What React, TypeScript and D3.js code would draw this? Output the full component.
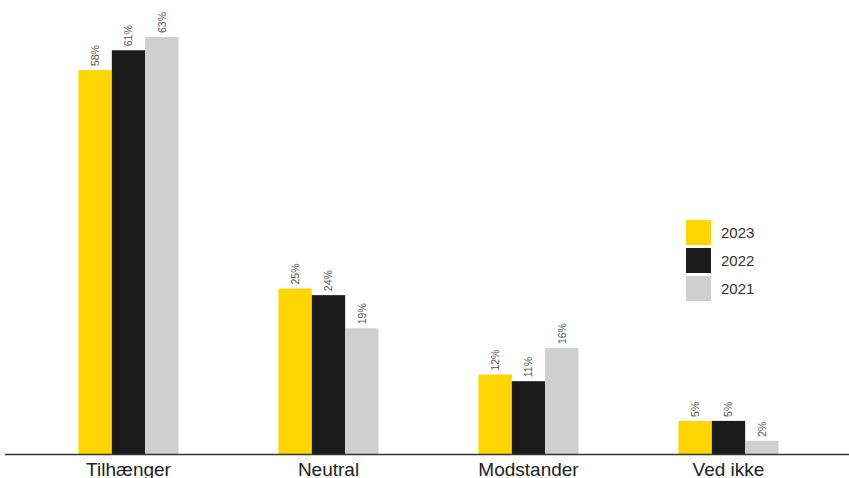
import React from "react";
import * as d3 from "d3";

const categories = ["Tilhænger", "Neutral", "Modstander", "Ved ikke"];
const years = ["2023", "2022", "2021"];
const values2023 = [58, 25, 12, 5];
const values2022 = [61, 24, 11, 5];
const values2021 = [63, 19, 16, 2];
const colors = ["#FFD500", "#1b1b1b", "#cfcfcf"];

const W = 849;
const H = 478;

export default function App() {
  const series = [values2023, values2022, values2021];
  const baseY = 454;
  const x = d3
    .scaleBand<string>()
    .domain(categories)
    .range([28.5, 828.5])
    .paddingInner(0.5)
    .paddingOuter(0.25);
  const xi = d3.scaleBand<string>().domain(years).range([0, x.bandwidth()]);
  const y = d3.scaleLinear().domain([0, 63]).range([baseY, 37]);

  return (
    <svg
      width={W}
      height={H}
      style={{ position: "absolute", left: 0, top: 0, display: "block", background: "#fff" }}
      fontFamily="Liberation Sans, Arial, sans-serif"
    >
      {categories.map((c, ci) => (
        <g key={c}>
          {years.map((yr, si) => {
            const v = series[si][ci];
            const bx = (x(c) as number) + (xi(yr) as number);
            const bw = xi.bandwidth();
            return (
              <g key={yr}>
                <rect x={bx} y={y(v)} width={bw} height={baseY - y(v)} fill={colors[si]} />
                <text
                  transform={`translate(${bx + bw / 2 + 3.8},${y(v) - 4}) rotate(-90)`}
                  fontSize={10.5}
                  fill="#555"
                  textAnchor="start"
                >
                  {v}%
                </text>
              </g>
            );
          })}
          <text
            x={(x(c) as number) + x.bandwidth() / 2}
            y={476}
            textAnchor="middle"
            fontSize={19}
            fill="#222"
          >
            {c}
          </text>
        </g>
      ))}
      <line x1={5} x2={W} y1={baseY + 0.5} y2={baseY + 0.5} stroke="#333" strokeWidth={1.5} />
      {years.map((yr, i) => (
        <g key={yr} transform={`translate(686,${220 + i * 28})`}>
          <rect width={25} height={25} fill={colors[i]} />
          <text x={35} y={18} fontSize={15} fill="#333">
            {yr}
          </text>
        </g>
      ))}
    </svg>
  );
}
